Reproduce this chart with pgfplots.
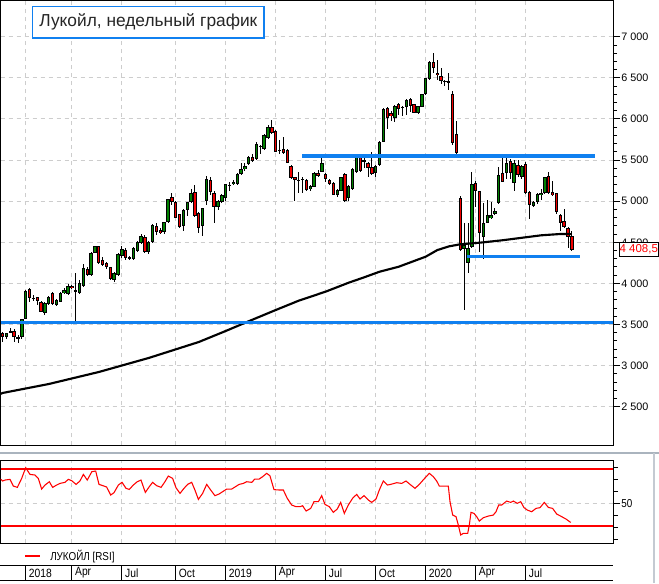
\documentclass[border=0pt]{standalone}
\usepackage{pgfplots}
\usepackage{pgfplotstable}
\pgfplotsset{compat=1.18}
\usepackage{fontspec}
\setmainfont{Liberation Sans}
\newfontfamily\narrowfont[FakeStretch=0.86]{Liberation Sans}
\definecolor{cgreen}{RGB}{0,128,0}
\definecolor{cred}{RGB}{240,0,0}
\definecolor{rsired}{RGB}{255,0,0}
\definecolor{lblue}{RGB}{16,128,240}
\definecolor{gridc}{RGB}{205,205,205}
\definecolor{sepc}{RGB}{170,180,190}

\pgfplotstableread[row sep=\\]{
w o h l c\\
-5 3344 3400 3320 3392\\
-4 3405 3460 3392 3415\\
-1 3344 3563 3320 3563\\
0 3563 3920 3563 3907\\
2 3818 3855 3790 3822\\
5 3636 3770 3620 3757\\
6 3750 3850 3740 3838\\
8 3737 3810 3720 3798\\
9 3778 3895 3770 3887\\
10 3879 3940 3870 3920\\
11 3871 3990 3860 3968\\
14 3879 4040 3870 4001\\
15 3972 4230 3960 4191\\
17 4102 4380 4095 4374\\
18 4374 4455 4370 4455\\
23 4040 4135 4020 4130\\
24 4102 4370 4090 4358\\
25 4333 4450 4310 4414\\
27 4310 4330 4290 4316\\
28 4297 4440 4290 4430\\
29 4394 4520 4380 4508\\
30 4496 4600 4480 4581\\
32 4378 4520 4360 4508\\
33 4500 4720 4495 4710\\
36 4621 4750 4600 4743\\
37 4743 5030 4740 5027\\
41 4702 4900 4640 4889\\
42 4889 4990 4820 4986\\
43 4994 5150 4980 5096\\
46 4702 4920 4580 4913\\
47 5002 5310 4955 5270\\
50 4930 5010 4890 5000\\
51 4994 5090 4980 5075\\
52 5035 5210 5000 5209\\
53 5190 5230 5120 5196\\
54 5209 5260 5200 5237\\
55 5209 5340 5200 5331\\
56 5331 5470 5320 5396\\
57 5388 5460 5370 5428\\
58 5452 5550 5440 5542\\
60 5509 5720 5500 5696\\
61 5664 5680 5580 5670\\
62 5631 5820 5620 5805\\
63 5765 5930 5760 5899\\
66 5620 5740 5570 5626\\
71 5255 5350 5100 5261\\
72 5263 5290 5100 5269\\
74 5144 5200 5130 5185\\
75 5176 5350 5170 5347\\
77 5359 5530 5350 5469\\
81 5075 5150 5050 5136\\
82 5128 5300 5120 5290\\
84 5035 5200 5000 5185\\
85 5144 5400 5140 5388\\
86 5359 5550 5340 5541\\
88 5490 5570 5400 5496\\
91 5339 5440 5300 5428\\
92 5440 5730 5430 5724\\
93 5724 6130 5720 6118\\
96 6008 6170 5960 6158\\
98 6140 6160 6040 6144\\
99 6142 6240 6050 6231\\
102 6077 6160 6060 6158\\
103 6150 6310 6140 6304\\
104 6304 6500 6290 6495\\
105 6482 6700 6470 6697\\
109 6460 6480 6400 6464\\
110 6452 6560 6350 6456\\
114 4414 4730 3676 4467\\
115 4252 4730 4130 4427\\
116 4440 5350 4430 5209\\
119 4560 4980 4300 4738\\
120 4739 5020 4730 4832\\
121 4792 4990 4780 4832\\
122 4844 4920 4830 4885\\
123 4974 5420 4970 5319\\
125 5347 5540 5270 5460\\
127 5217 5500 5130 5469\\
129 5298 5440 5270 5428\\
132 4946 5000 4930 4986\\
133 4986 5100 4960 5084\\
134 5075 5150 5020 5104\\
135 5096 5300 5090 5290\\
}\up

\pgfplotstableread[row sep=\\]{
w o h l c\\
-6 3392 3413 3291 3344\\
-3 3420 3440 3291 3344\\
-2 3352 3372 3280 3328\\
1 3928 3948 3778 3826\\
3 3830 3839 3737 3790\\
4 3778 3790 3650 3656\\
7 3879 3900 3740 3750\\
12 3968 3985 3930 3940\\
13 3915 4130 3535 3910\\
16 4171 4200 4090 4102\\
19 4455 4460 4240 4244\\
20 4285 4320 4210 4224\\
21 4244 4260 4180 4204\\
22 4195 4200 4040 4049\\
26 4402 4430 4290 4305\\
31 4564 4590 4370 4378\\
34 4702 4740 4590 4621\\
35 4650 4670 4600 4609\\
38 5051 5105 4950 4986\\
39 4986 5000 4790 4800\\
40 4840 4850 4680 4690\\
44 5108 5195 4810 4824\\
45 4852 4870 4610 4670\\
48 5258 5300 5080 5108\\
49 5096 5120 4730 4933\\
59 5542 5580 5480 5493\\
64 5899 5990 5820 5826\\
65 5858 5870 5600 5603\\
67 5635 5780 5580 5590\\
68 5623 5630 5460 5461\\
69 5428 5440 5270 5278\\
70 5298 5300 5000 5258\\
73 5258 5270 5130 5136\\
76 5347 5380 5300 5307\\
78 5331 5340 5230 5266\\
79 5258 5270 5200 5209\\
80 5225 5230 5070 5075\\
83 5331 5340 4994 5000\\
87 5541 5550 5360 5371\\
89 5469 5480 5300 5400\\
90 5420 5600 5320 5331\\
94 6130 6150 5880 6016\\
95 6069 6100 5970 6036\\
97 6182 6200 6050 6118\\
100 6239 6250 6080 6158\\
101 6178 6180 6070 6077\\
106 6697 6800 6560 6624\\
107 6564 6720 6480 6535\\
108 6523 6620 6420 6462\\
111 6304 6340 5680 5704\\
112 5817 5980 5540 5582\\
113 5035 5060 4400 4406\\
117 5225 5240 4930 5128\\
118 5128 5130 4380 4617\\
124 5347 5540 5230 5237\\
126 5493 5510 5270 5347\\
128 5440 5500 5300 5318\\
130 5452 5480 5090 5096\\
131 5116 5120 4780 4954\\
136 5307 5360 5090 5096\\
137 5108 5250 5060 5075\\
138 5096 5100 4850 4864\\
139 4832 4850 4640 4731\\
140 4759 4900 4670 4682\\
141 4670 4690 4430 4560\\
142 4577 4640 4400 4408.5\\
}\down

\pgfplotstableread[row sep=\\]{
w v\\
-6.6 2655\\
-6 2667\\
6 2776\\
19 2922\\
32 3093\\
45 3287\\
52 3421\\
58 3540\\
65 3676\\
71 3790\\
78 3900\\
84 4009\\
88 4074\\
92 4142\\
97 4203\\
101 4273\\
104 4325\\
107 4405\\
110 4450\\
113 4476\\
118 4495\\
124 4525\\
129 4555\\
134 4585\\
139 4601\\
142 4600\\
}\ma

\pgfplotstableread[row sep=\\]{
w r\\
-6.55 70.25\\ -5.99 68.6\\ -5.38 69.4\\ -4.08 70.0\\ -3.21 64.4\\ -2.17 63.3\\ -1.04 70.8\\ 0 79.7\\
1.12 74.1\\ 2.42 73.6\\ 3.28 70.8\\ 4.15 61.9\\ 5.02 65.25\\ 6.15 68.0\\ 7.01 63.3\\ 8.05 65.25\\
8.92 66.6\\ 10.2 67.5\\ 11.1 70.0\\ 11.95 68.9\\ 13.1 65.8\\ 14.1 68.6\\ 15.0 74.1\\ 16.0 69.4\\
17.2 76.4\\ 18.2 76.9\\ 19.06 65.8\\ 20.36 64.4\\ 21.05 63.6\\ 22.1 56.9\\ 22.96 58.9\\ 24.1 65.25\\
25.04 67.5\\ 26.08 62.5\\ 26.94 61.6\\ 27.98 65.25\\ 29.0 68.0\\ 29.98 69.4\\ 31.1 59.1\\ 32.14 63.9\\
33.0 67.5\\ 34.06 64.7\\ 35.2 63.3\\ 36.2 68.0\\ 37.08 72.75\\ 38.2 70.8\\ 39.08 63.0\\ 40.12 58.3\\
41.16 62.5\\ 42.1 65.8\\ 43.16 67.5\\ 44.0 61.1\\ 44.9 53.3\\ 46.0 58.3\\ 47.06 65.8\\ 48.1 61.1\\
49.2 56.4\\ 50.26 57.75\\ 51.2 59.7\\ 52.26 61.9\\ 53.56 61.9\\ 54.4 63.6\\ 55.5 65.8\\ 56.58 66.6\\
57.46 68.0\\ 58.76 67.5\\ 59.6 70.25\\ 60.7 70.25\\ 61.6 72.2\\ 62.66 75.0\\ 63.5 73.0\\ 64.56 61.4\\
65.94 61.1\\ 66.98 61.1\\ 68.0 54.2\\ 69.16 48.6\\ 70.28 47.2\\ 71.3 47.2\\ 72.0 48.0\\ 72.9 43.6\\
74.1 45.8\\ 74.96 51.4\\ 76.1 51.4\\ 76.96 56.4\\ 77.82 49.1\\ 78.94 47.2\\ 79.98 42.5\\ 81.0 45.25\\
81.9 50.8\\ 82.84 41.6\\ 83.88 48.6\\ 85.0 54.2\\ 86.06 57.5\\ 86.92 53.6\\ 87.96 56.4\\ 89.08 52.75\\
89.96 50.8\\ 91.08 53.6\\ 91.94 61.1\\ 92.98 68.6\\ 94.02 65.25\\ 94.9 65.8\\ 96.46 67.2\\ 97.76 66.6\\
98.88 68.6\\ 99.92 65.8\\ 101.22 62.5\\ 102.34 65.8\\ 103.56 70.25\\ 104.94 75.0\\ 105.98 72.2\\ 106.86 68.6\\
107.54 64.4\\ 109.88 64.4\\ 110.32 51.4\\ 111.02 40.25\\ 111.88 38.9\\ 112.48 31.9\\ 113.1 23.6\\ 113.78 25.0\\
114.92 25.0\\ 115.34 31.9\\ 115.78 42.5\\ 116.56 41.6\\ 117.26 38.9\\ 117.94 35.25\\ 118.98 38.0\\ 120.28 39.4\\
121.58 40.25\\ 122.28 43.0\\ 122.98 48.6\\ 123.76 48.6\\ 125.06 51.9\\ 126.1 50.8\\ 126.78 51.9\\ 127.82 50.0\\
128.7 51.4\\ 129.56 46.4\\ 130.42 44.4\\ 131.56 43.0\\ 132.68 45.8\\ 133.72 46.4\\ 134.84 50.8\\ 135.88 46.6\\
137.0 45.8\\ 138.06 41.1\\ 139.36 38.9\\ 140.48 36.9\\ 141.7 34.1\\
}\rsi

\pgfplotsset{
  wickstyle/.style={forget plot, draw=none, mark=none,
    error bars/.cd, y dir=both, y explicit, error mark=none,
    error bar style={draw=black, solid, line width=0.75pt}},
  bodyout/.style={forget plot, draw=none, mark=none,
    error bars/.cd, y dir=both, y explicit, error mark=none,
    error bar style={draw=black, solid, line width=2.5pt}},
  bodyin/.style={forget plot, draw=none, mark=none,
    error bars/.cd, y dir=both, y explicit, error mark=none,
    error bar style={draw=#1, solid, line width=1.05pt}},
}

\begin{document}
\begin{tikzpicture}
\useasboundingbox (0pt,0pt) rectangle (494.25pt,-437.25pt);
\fill[white] (0pt,0pt) rectangle (494.25pt,-437.25pt);

\begin{axis}[
  at={(0.375pt,-0.375pt)}, anchor=north west,
  scale only axis, width=459.375pt, height=333.375pt,
  xmin=-6.55, xmax=152.7, ymin=2034, ymax=7441.5,
  axis line style={line width=0.75pt, black},
  xtick={0,12,25,39,52,65,78,91,104,117,130}, xticklabels={},
  xtick style={draw=none},
  xmajorgrids, ymajorgrids,
  grid style={gridc, line width=0.75pt, dash pattern=on 3pt off 3pt},
  ytick={2500,3000,3500,4000,4500,5000,5500,6000,6500,7000},
  yticklabels={2 500,3 000,3 500,4 000,4 500,5 000,5 500,6 000,6 500,7 000},
  minor y tick num=4,
  ytick pos=right, yticklabel pos=right, tick align=outside,
  major tick length=5.25pt, minor tick length=3pt,
  every tick/.style={black, line width=0.75pt},
  yticklabel style={font=\fontsize{8.1pt}{9pt}\selectfont, anchor=west, inner sep=0.8pt},
  clip=true,
]
\addplot[wickstyle] table[x=w, y expr={(\thisrow{h}+\thisrow{l})/2}, y error expr={(\thisrow{h}-\thisrow{l})/2}] {\up};
\addplot[wickstyle] table[x=w, y expr={(\thisrow{h}+\thisrow{l})/2}, y error expr={(\thisrow{h}-\thisrow{l})/2}] {\down};
\addplot[bodyout] table[x=w, y expr={(\thisrow{o}+\thisrow{c})/2}, y error expr={max(abs(\thisrow{o}-\thisrow{c})/2,6)}] {\up};
\addplot[bodyout] table[x=w, y expr={(\thisrow{o}+\thisrow{c})/2}, y error expr={max(abs(\thisrow{o}-\thisrow{c})/2,6)}] {\down};
\addplot[bodyin=cgreen] table[x=w, y expr={(\thisrow{o}+\thisrow{c})/2}, y error expr={max(abs(\thisrow{o}-\thisrow{c})/2-12,0)}] {\up};
\addplot[bodyin=cred] table[x=w, y expr={(\thisrow{o}+\thisrow{c})/2}, y error expr={max(abs(\thisrow{o}-\thisrow{c})/2-12,0)}] {\down};
\addplot[black, line width=1.6pt, mark=none] table[x=w, y=v] {\ma};
\addplot[lblue, line width=2.4pt, mark=none] coordinates {(-6.55,3520) (152.7,3520)};
\addplot[lblue, line width=2.4pt, mark=none] coordinates {(71.9,5550) (148,5550)};
\addplot[lblue, line width=2.4pt, mark=none] coordinates {(114.7,4325) (144.1,4325)};
\end{axis}

\begin{axis}[
  at={(0.375pt,-345pt)}, anchor=north west,
  scale only axis, width=459.375pt, height=62.5pt,
  xmin=-6.55, xmax=152.7, ymin=16.67, ymax=86.1,
  axis line style={line width=0.75pt, black},
  xtick={0,12,25,39,52,65,78,91,104,117,130}, xticklabels={},
  xtick style={draw=none},
  xmajorgrids,
  grid style={gridc, line width=0.75pt, dash pattern=on 3pt off 3pt},
  ytick={50}, yticklabels={50},
  minor ytick={20,30,40,60,70,80},
  ytick pos=right, yticklabel pos=right, tick align=outside,
  major tick length=5.25pt, minor tick length=3.75pt,
  every tick/.style={black, line width=0.75pt},
  yticklabel style={font=\fontsize{8.6pt}{9pt}\narrowfont, anchor=west, inner sep=0.8pt},
  clip=true,
]
\addplot[gridc, line width=0.75pt, dash pattern=on 3pt off 3pt, mark=none] coordinates {(-6.55,50) (152.7,50)};
\addplot[draw=rsired, line width=1.4pt, mark=none] coordinates {(-6.55,78.3) (152.7,78.3)};
\addplot[draw=rsired, line width=1.4pt, mark=none] coordinates {(-6.55,31.1) (152.7,31.1)};
\addplot[draw=rsired, line width=0.8pt, mark=none] table[x=w, y=r] {\rsi};
\end{axis}

\begin{scope}[x=0.75pt, y=-0.75pt]
  % title box
  \draw[lblue, fill=white, line width=0.9pt] (32.8,6.5) rectangle (264,38);
  \node[anchor=center, inner sep=0pt, text=black!85] at (148.4,22.3) {\fontsize{13pt}{15pt}\selectfont Лукойл, недельный график};
  % price tag
  \draw[black, fill=white, line width=0.75pt] (619.5,242.5) rectangle (658.2,256.5);
  \node[anchor=center, inner sep=0pt, text=red] at (638.8,249.6) {\fontsize{8.6pt}{9pt}\selectfont 4 408,5};
  % separators
  \draw[sepc, line width=0.9pt] (0,453) -- (659,453);
  \draw[sepc!70, line width=0.9pt] (654,453) -- (654,583);
  % legend
  \draw[red, line width=0.8pt] (25,556) -- (40,556);
  \node[anchor=west, inner sep=0pt] at (50,556.5) {\fontsize{8.6pt}{9pt}\narrowfont ЛУКОЙЛ [RSI]};
  % date strip
  \draw[black, line width=0.75pt] (0,565) -- (613,565);
  \draw[black, line width=0.75pt] (0,580.5) -- (613,580.5);
  \foreach \xx/\lab in {25.7/2018, 71.85/Apr, 121.85/Jul, 175.7/Oct, 225.7/2019, 275.7/Apr, 325.7/Jul, 375.7/Oct, 425.7/2020, 475.7/Apr, 525.7/Jul} {
    \draw[black, line width=0.75pt] (\xx,565) -- (\xx,580.5);
    \node[anchor=west, inner sep=0pt] at (\xx+3,573) {\fontsize{9pt}{10pt}\narrowfont \lab};
  }
\end{scope}
\end{tikzpicture}
\end{document}
